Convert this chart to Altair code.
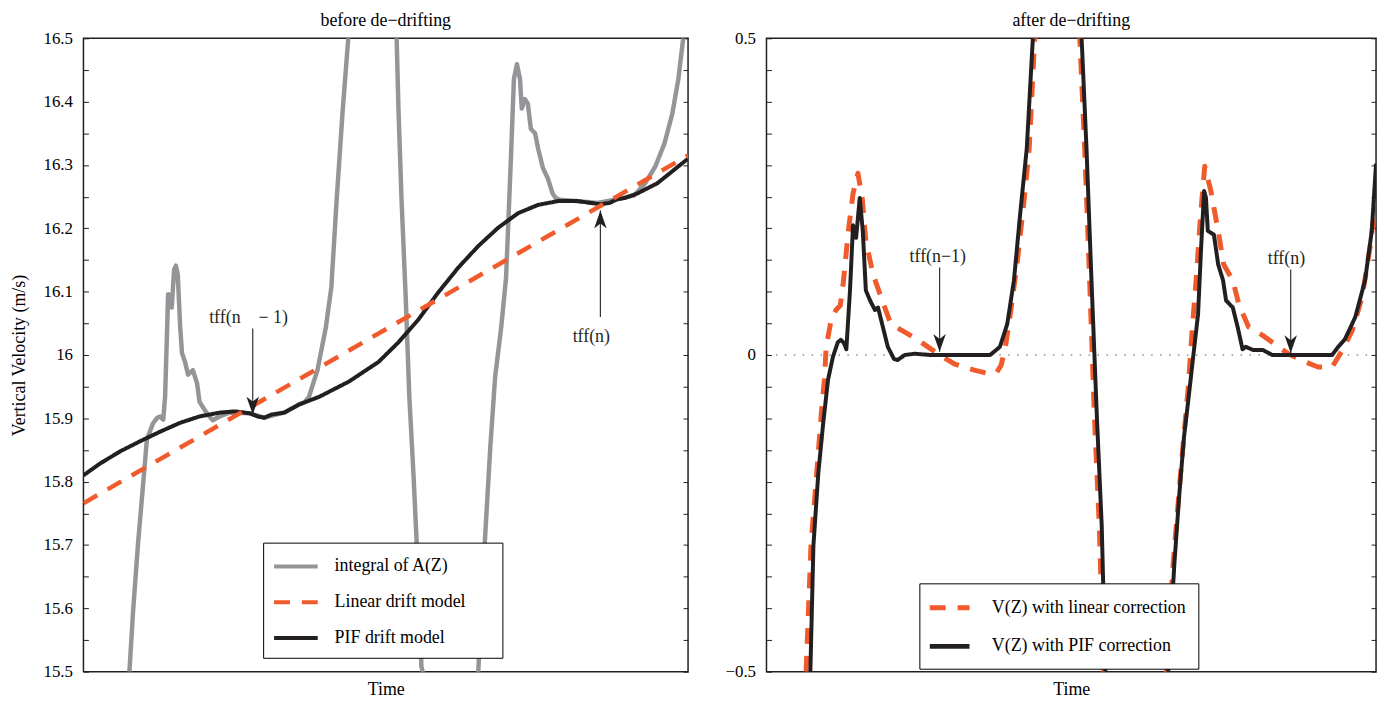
import altair as alt
import pandas as pd

FONT = "Liberation Serif"
INK = "#231f20"

# ---------------- left panel: before de-drifting ----------------
left_series = ["integral of A(Z)", "Linear drift model", "PIF drift model"]
left_colors = ["#939598", "#f15a2b", INK]
left_dashes = [[1, 0], [16, 12], [1, 0]]

gray_t = [7.6, 8.2, 9.0, 9.7, 10.5, 11.5, 12.2, 12.7, 13.2, 13.5, 13.8, 14.0, 14.3, 14.6,
          15.0, 15.3, 15.6, 16.0, 16.3, 16.8, 17.3, 18.1, 18.8, 19.2, 20.4, 21.4, 22.5, 24.2,
          27.5, 29.9, 33.2, 35.7, 36.5, 37.3, 38.7, 39.3, 40.1, 41.0, 41.9, 42.9, 43.8, 47.7,
          51.8, 52.1, 52.6, 53.3, 53.9, 54.6, 55.1, 55.9, 56.1, 60.7, 65.3, 66.4, 67.3, 68.1,
          69.1, 69.9, 70.7, 71.2, 71.7, 72.2, 72.5, 73.0, 73.5, 74.0, 74.7, 75.2, 76.0, 76.8,
          77.6, 78.1, 78.8, 81.7, 85.0, 88.3, 91.1, 92.9, 94.6, 96.1, 97.4, 98.4, 99.2]
gray_v = [15.500, 15.594, 15.699, 15.777, 15.867, 15.892, 15.901, 15.903, 15.898, 15.934,
          16.028, 16.096, 16.094, 16.075, 16.135, 16.141, 16.127, 16.044, 16.003, 15.989,
          15.969, 15.976, 15.955, 15.926, 15.908, 15.897, 15.903, 15.909, 15.908, 15.901,
          15.909, 15.922, 15.925, 15.934, 15.976, 16.005, 16.044, 16.107, 16.248, 16.389,
          16.500, 17.500, 16.500, 16.389, 16.248, 16.091, 15.934, 15.809, 15.707, 15.508,
          15.500, 14.500, 15.500, 15.707, 15.856, 15.966, 16.044, 16.122, 16.310, 16.436,
          16.459, 16.436, 16.389, 16.404, 16.397, 16.357, 16.350, 16.326, 16.295, 16.279,
          16.255, 16.248, 16.245, 16.243, 16.240, 16.246, 16.252, 16.271, 16.298, 16.334,
          16.381, 16.436, 16.500]

linear_t = [0, 100]
linear_v = [15.766, 16.315]

pif_t = [0, 2.8, 6.1, 9.4, 12.7, 16.0, 19.2, 22.5, 25.0, 27.5, 28.8, 29.9, 31.1, 33.2, 35.7,
         39.0, 43.9, 48.8, 52.1, 55.4, 58.7, 62.0, 65.3, 68.6, 71.9, 75.2, 78.5, 81.7, 85.5,
         87.0, 88.3, 89.6, 91.6, 94.9, 100]
pif_v = [15.810, 15.829, 15.848, 15.864, 15.879, 15.893, 15.903, 15.909, 15.911, 15.908,
         15.903, 15.901, 15.906, 15.909, 15.922, 15.934, 15.958, 15.989, 16.020, 16.056,
         16.099, 16.138, 16.172, 16.201, 16.224, 16.237, 16.243, 16.243, 16.238, 16.240,
         16.246, 16.248, 16.255, 16.271, 16.310]

left_yticks = [15.5, 15.55, 15.6, 15.65, 15.7, 15.75, 15.8, 15.85, 15.9, 15.95, 16.0,
               16.05, 16.1, 16.15, 16.2, 16.25, 16.3, 16.35, 16.4, 16.45, 16.5]

left_ann_text = ["tff(n\u00a0\u00a0\u00a0\u00a0\u2212 1)", "tff(n)"]
left_ann_text_t = [27.3, 84.0]
left_ann_text_v = [16.058, 16.028]
left_arrow_t = [28.0, 85.5]
left_arrow_from = [16.042, 16.060]
left_arrow_tip = [15.906, 16.228]
left_arrow_dir = ["down", "up"]

# ---------------- right panel: after de-drifting ----------------
right_series = ["V(Z) with linear correction", "V(Z) with PIF correction"]
right_colors = ["#f15a2b", INK]
right_dashes = [[16, 12], [1, 0]]

lin_corr_t = [6.5, 7.3, 8.2, 9.0, 9.5, 9.8, 10.6, 11.4, 12.1, 12.6, 13.4, 14.2, 15.0, 15.7,
              16.3, 17.5, 18.8, 20.4, 22.7, 24.8, 28.1, 30.8, 34.1, 36.7, 37.8, 38.5, 39.2,
              40.0, 41.1, 42.3, 43.1, 44.0, 47.6, 51.4, 52.2, 53.0, 53.8, 54.6, 55.3, 60.7,
              65.6, 66.7, 67.9, 69.2, 69.8, 70.5, 71.1, 71.6, 71.9, 72.9, 74.1, 75.0, 76.5,
              77.5, 79.1, 81.4, 84.0, 85.6, 88.4, 90.5, 92.8, 94.5, 96.1, 97.7, 99.0, 100]
lin_corr_v = [-0.500, -0.301, -0.191, -0.092, -0.039, 0.013, 0.055, 0.071, 0.078, 0.114,
              0.193, 0.255, 0.287, 0.248, 0.180, 0.127, 0.091, 0.049, 0.036, 0.024, 0.002,
              -0.014, -0.024, -0.030, -0.027, -0.016, 0.013, 0.064, 0.143, 0.248, 0.326,
              0.500, 1.600, 0.500, 0.326, 0.122, -0.097, -0.270, -0.500, -1.600, -0.500,
              -0.332, -0.191, -0.050, 0.035, 0.120, 0.205, 0.265, 0.298, 0.259, 0.196, 0.143,
              0.118, 0.080, 0.044, 0.031, 0.013, 0.002, -0.011, -0.019, -0.019, 0.008, 0.039,
              0.091, 0.169, 0.248]

pif_corr_t = [7.2, 7.7, 8.5, 9.3, 10.1, 10.9, 11.7, 12.2, 12.7, 13.1, 13.7, 14.2, 14.7, 15.3,
              15.8, 16.3, 17.0, 17.8, 18.3, 19.1, 19.9, 20.9, 21.5, 22.7, 24.3, 26.9, 36.7,
              38.3, 39.5, 40.6, 41.6, 42.7, 43.7, 47.6, 51.7, 52.5, 53.3, 54.2, 55.0, 55.6,
              60.7, 65.9, 66.9, 67.7, 68.5, 69.3, 70.0, 70.8, 71.3, 71.8, 72.1, 72.4, 72.9,
              73.4, 74.1, 74.9, 75.4, 76.5, 77.3, 78.1, 78.6, 79.8, 81.4, 83.0, 92.8, 93.8,
              94.9, 96.6, 98.2, 99.3, 100]
pif_corr_v = [-0.500, -0.301, -0.187, -0.108, -0.039, -0.003, 0.020, 0.024, 0.019, 0.009,
              0.102, 0.205, 0.185, 0.248, 0.196, 0.102, 0.086, 0.071, 0.075, 0.044, 0.013,
              -0.006, -0.008, 0.000, 0.002, 0.000, 0.000, 0.013, 0.049, 0.118, 0.221, 0.326,
              0.500, 1.600, 0.500, 0.326, 0.122, -0.097, -0.270, -0.500, -1.600, -0.500,
              -0.332, -0.223, -0.129, -0.063, -0.003, 0.064, 0.169, 0.259, 0.248, 0.196,
              0.193, 0.190, 0.143, 0.118, 0.086, 0.075, 0.044, 0.009, 0.013, 0.008, 0.008,
              0.000, 0.000, 0.013, 0.025, 0.060, 0.118, 0.196, 0.302]

right_yticks = [-0.5, -0.45, -0.4, -0.35, -0.3, -0.25, -0.2, -0.15, -0.1, -0.05, 0.0,
                0.05, 0.1, 0.15, 0.2, 0.25, 0.3, 0.35, 0.4, 0.45, 0.5]
zero_line = [0.0]

right_ann_text = ["tff(n\u22121)", "tff(n)"]
right_ann_text_t = [28.1, 85.3]
right_ann_text_v = [0.154, 0.152]
right_arrow_t = [28.4, 86.0]
right_arrow_from = [0.138, 0.135]
right_arrow_tip = [0.005, 0.003]
right_arrow_dir = ["down", "down"]

ARROW_DOWN = "M0,0L-0.7,-2L0,-1.45L0.7,-2Z"
ARROW_UP = "M0,0L-0.7,2L0,1.45L0.7,2Z"


def series_df(name, ts, vs):
    return pd.DataFrame({"t": ts, "v": vs, "series": name, "i": list(range(len(ts)))})


X_AXIS = alt.Axis(title="Time", labels=False, ticks=False, domain=False, grid=False,
                  titleFont=FONT, titleFontSize=18, titleFontWeight="normal",
                  titleColor="black", titlePadding=9)
X_ENC = alt.X("t:Q", scale=alt.Scale(domain=[0, 100], nice=False, zero=False), axis=X_AXIS)


def build_panel(domain, yticks, label_expr, ytitle, series, colors, dashes, widths, lines,
                legend, ann, title, width, zero=None):
    yscale = alt.Scale(domain=domain, nice=False, zero=False)
    left_axis_kw = dict(orient="left", values=yticks, labelExpr=label_expr, offset=-5,
                        tickSize=5, tickColor=INK, tickWidth=1, labelPadding=11,
                        domain=False, grid=False, labelFont=FONT, labelFontSize=17,
                        labelColor="black")
    if ytitle:
        left_axis_kw.update(title=ytitle, titleFont=FONT, titleFontSize=18,
                            titleFontWeight="normal", titleColor="black", titlePadding=15)
    else:
        left_axis_kw.update(title=None)
    axis_left = alt.Axis(**left_axis_kw)
    axis_right = alt.Axis(orient="right", values=yticks, labels=False, offset=-5, tickSize=5,
                          tickColor=INK, tickWidth=1, domain=False, grid=False, title=None)
    color = alt.Color("series:N", scale=alt.Scale(domain=series, range=colors), legend=legend)
    dash = alt.StrokeDash("series:N", scale=alt.Scale(domain=series, range=dashes),
                          legend=legend)
    layers = []
    if zero is not None:
        layers.append(alt.Chart(pd.DataFrame({"v": zero})).mark_rule(
            color="#555555", strokeWidth=1, strokeDash=[1.5, 7.5]).encode(
            y=alt.Y("v:Q", scale=yscale, axis=None)))
    for k, (name, ts, vs) in enumerate(lines):
        ax = axis_left if k == 0 else (axis_right if k == 1 else None)
        layers.append(alt.Chart(series_df(name, ts, vs)).mark_line(
            clip=True, strokeWidth=widths[k], strokeCap="butt", strokeJoin="round").encode(
            x=X_ENC, y=alt.Y("v:Q", scale=yscale, axis=ax), color=color, strokeDash=dash,
            order="i:Q"))
    txt_df = pd.DataFrame({"t": ann[1], "v": ann[2], "label": ann[0]})
    arr_df = pd.DataFrame({"t": ann[3], "from": ann[4], "tip": ann[5], "dir": ann[6]})
    layers.append(alt.Chart(txt_df).mark_text(font=FONT, fontSize=18, color=INK,
                                               align="center", baseline="middle").encode(
        x=X_ENC, y=alt.Y("v:Q", scale=yscale, axis=None), text="label:N"))
    layers.append(alt.Chart(arr_df).mark_rule(color="#333333", strokeWidth=1.2).encode(
        x=X_ENC, y=alt.Y("from:Q", scale=yscale, axis=None), y2="tip:Q"))
    layers.append(alt.Chart(arr_df).mark_point(filled=True, size=324, color=INK,
                                                opacity=1, strokeWidth=0).encode(
        x=X_ENC, y=alt.Y("tip:Q", scale=yscale, axis=None),
        shape=alt.Shape("dir:N", scale=alt.Scale(domain=["down", "up"],
                                                  range=[ARROW_DOWN, ARROW_UP]),
                        legend=None)))
    return alt.layer(*layers).resolve_axis(y="independent").properties(
        width=width, height=638,
        title=alt.TitleParams(title, font=FONT, fontSize=18, fontWeight="normal",
                              color="black", anchor="middle", offset=-1, frame="group"))


left_legend = alt.Legend(orient="none", legendX=181, legendY=508, title=None,
                         symbolType="M-2,0L2,0", symbolSize=484, symbolStrokeWidth=4,
                         labelFont=FONT, labelFontSize=18, labelColor="black",
                         labelLimit=400,
                         labelExpr="datum.label + '\u2800\u2800'",
                         fillColor="white", strokeColor="black", padding=11,
                         rowPadding=14, labelOffset=26, symbolOffset=9)
right_legend = alt.Legend(orient="none", legendX=154, legendY=549, title=None,
                          symbolType="M-2,0L2,0", symbolSize=400, symbolStrokeWidth=5,
                          labelFont=FONT, labelFontSize=18, labelColor="black",
                          labelLimit=400,
                          fillColor="white", strokeColor="black", padding=12,
                          rowPadding=16, labelOffset=30, symbolOffset=6)

left = build_panel(
    [15.5, 16.5], left_yticks,
    "abs(datum.value*10 - round(datum.value*10)) < 0.01 ? format(datum.value, '.1~f') : ''",
    "Vertical Velocity (m/s)", left_series, left_colors, left_dashes, [4.5, 4, 4.5],
    [(left_series[0], gray_t, gray_v), (left_series[2], pif_t, pif_v),
     (left_series[1], linear_t, linear_v)],
    left_legend,
    (left_ann_text, left_ann_text_t, left_ann_text_v, left_arrow_t, left_arrow_from,
     left_arrow_tip, left_arrow_dir),
    "before de\u2212drifting", 609)

right = build_panel(
    [-0.5, 0.5], right_yticks,
    "abs(datum.value*2 - round(datum.value*2)) < 0.01 ? format(datum.value, '.1~f') : ''",
    None, right_series, right_colors, right_dashes, [5, 4],
    [(right_series[0], lin_corr_t, lin_corr_v), (right_series[1], pif_corr_t, pif_corr_v)],
    right_legend,
    (right_ann_text, right_ann_text_t, right_ann_text_v, right_arrow_t, right_arrow_from,
     right_arrow_tip, right_arrow_dir),
    "after de\u2212drifting", 614, zero=zero_line)

chart = alt.hconcat(left, right, spacing=34).resolve_scale(
    x="independent", y="independent", color="independent", strokeDash="independent",
    shape="independent").properties(
    padding={"left": 1, "top": 1, "right": 4, "bottom": 0},
    background="white").configure(font=FONT).configure_axis(
    labelFont=FONT, titleFont=FONT).configure_view(
    stroke=INK, strokeWidth=1.5)

chart.save("out.html", embed_options={"renderer": "svg", "actions": False})
